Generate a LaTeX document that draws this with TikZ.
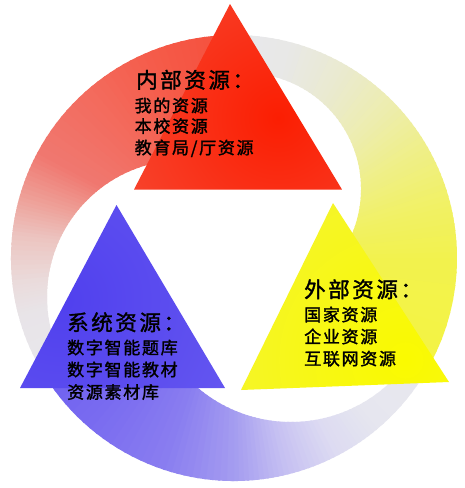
\documentclass[tikz,border=0pt]{standalone}
\usepackage{fontspec}
\newfontfamily\cjkt[LetterSpace=12,FakeBold=1.6]{Noto Sans CJK SC}
\newfontfamily\cjki[LetterSpace=10,FakeBold=1.6]{Noto Sans CJK SC}
% red band stops
\definecolor{ra}{HTML}{E8E8EC}
\definecolor{rb}{HTML}{E8E4E8}
\definecolor{rc}{HTML}{EADCDC}
\definecolor{rd}{HTML}{ECC4C0}
\definecolor{re}{HTML}{EEA098}
\definecolor{rf}{HTML}{F07870}
\definecolor{rg}{HTML}{F36A5C}
\definecolor{rh}{HTML}{F55A48}
\definecolor{ri}{HTML}{F5503C}
% yellow band stops
\definecolor{ya}{HTML}{E8E8EE}
\definecolor{yb}{HTML}{E8E8E6}
\definecolor{yc}{HTML}{EAEAD0}
\definecolor{yd}{HTML}{EDEDB0}
\definecolor{ye}{HTML}{EFEF88}
\definecolor{yf}{HTML}{F1F166}
\definecolor{yg}{HTML}{F2F24E}
\definecolor{yh}{HTML}{F4F440}
% blue band stops
\definecolor{ba}{HTML}{E8E8EE}
\definecolor{bb}{HTML}{E6E6EF}
\definecolor{bc}{HTML}{DCDAF2}
\definecolor{bd}{HTML}{C4BEF2}
\definecolor{be}{HTML}{A49CF0}
\definecolor{bf}{HTML}{8A7EF0}
\definecolor{bg}{HTML}{7A6CF0}
\definecolor{bh}{HTML}{6C5EF0}
% triangles
\definecolor{redin}{HTML}{FB1E02}
\definecolor{redout}{HTML}{F5604E}
\definecolor{yelin}{HTML}{FAFA00}
\definecolor{yelout}{HTML}{F0F052}
\definecolor{bluein}{HTML}{5040EE}
\definecolor{blueout}{HTML}{7A6EF2}
\newcommand\wseg[4]{%
  \foreach \k in {0,...,9}{%
    \pgfmathsetmacro\wa{#1+(#2-#1)*\k/10}%
    \pgfmathsetmacro\wb{#1+(#2-#1)*(\k+1)/10+0.6}%
    \pgfmathsetmacro\wp{100*(\k+0.5)/10}%
    \fill[#4!\wp!#3] (234,258) -- +(\wa:262) -- +(\wb:262) -- cycle;
  }}
\begin{document}
\begin{tikzpicture}[x=1pt,y=-1pt,
  ttl/.style={anchor=base west, inner sep=0pt, font=\cjkt\fontsize{21.5}{26}\selectfont},
  itm/.style={anchor=base west, inner sep=0pt, font=\cjki\fontsize{17}{20}\selectfont}]
\useasboundingbox (0,0) rectangle (464,488);
\fill[white] (0,0) rectangle (464,488);
% ---- red band
\begin{scope}
\clip (234,258) ++(147:223) arc[start angle=147, end angle=267, radius=223]
  -- (184,160) arc[start angle=270, end angle=142.7, radius=137] -- cycle;
\wseg{147}{165}{ra}{rb}
\wseg{165}{173}{rb}{rc}
\wseg{173}{186}{rc}{rd}
\wseg{186}{196}{rd}{re}
\wseg{196}{208}{re}{rf}
\wseg{208}{230}{rf}{rg}
\wseg{230}{250}{rg}{rh}
\wseg{250}{270}{rh}{ri}
\end{scope}
% ---- yellow band
\begin{scope}
\clip (234,258) ++(267:223) arc[start angle=267, end angle=393, radius=223]
  -- (319.6,277.9) arc[start angle=50, end angle=-97.4, radius=116] -- cycle;
\wseg{267}{285}{ya}{yb}
\wseg{285}{300}{yb}{yc}
\wseg{300}{315}{yc}{yd}
\wseg{315}{330}{yd}{ye}
\wseg{330}{345}{ye}{yf}
\wseg{345}{360}{yf}{yg}
\wseg{360}{395}{yg}{yh}
\end{scope}
% ---- blue band
\begin{scope}
\clip (234,258) ++(30:223) arc[start angle=30, end angle=150.2, radius=223]
  -- (173.0,360.6) arc[start angle=145, end angle=40, radius=144] -- cycle;
\wseg{28}{50}{ba}{bb}
\wseg{50}{63}{bb}{bc}
\wseg{63}{77}{bc}{bd}
\wseg{77}{90}{bd}{be}
\wseg{90}{108}{be}{bf}
\wseg{108}{130}{bf}{bg}
\wseg{130}{152}{bg}{bh}
\end{scope}
% ---- triangles
\begin{scope}
\clip (230,4) -- (134,189.5) -- (342,189.5) -- cycle;
\shade[inner color=redin, outer color=redout] (278,118) circle[radius=300pt];
\end{scope}
\begin{scope}
\clip (333,203) -- (241,390) -- (449,382) -- cycle;
\shade[inner color=yelin, outer color=yelout] (405,360) circle[radius=360pt];
\end{scope}
\begin{scope}
\clip (116.5,205) -- (20,388) -- (225,388) -- cycle;
\shade[inner color=bluein, outer color=blueout] (60,300) circle[radius=400pt];
\end{scope}
% ---- texts
\node[ttl] (r0) at (136,88) {内部资源：};
\node[itm] (r1) at (134.5,112) {我的资源};
\node[itm] (r2) at (134.5,132.5) {本校资源};
\node[itm] (r3) at (134.5,154) {教育局/厅资源};
\node[ttl] (y0) at (304,297.5) {外部资源：};
\node[itm] (y1) at (304,321) {国家资源};
\node[itm] (y2) at (304,343) {企业资源};
\node[itm] (y3) at (304,365) {互联网资源};
\node[ttl] (b0) at (67,330.5) {系统资源：};
\node[itm] (b1) at (67,354) {数字智能题库};
\node[itm] (b2) at (67,376) {数字智能教材};
\node[itm] (b3) at (67,398.5) {资源素材库};
\end{tikzpicture}
\end{document}
